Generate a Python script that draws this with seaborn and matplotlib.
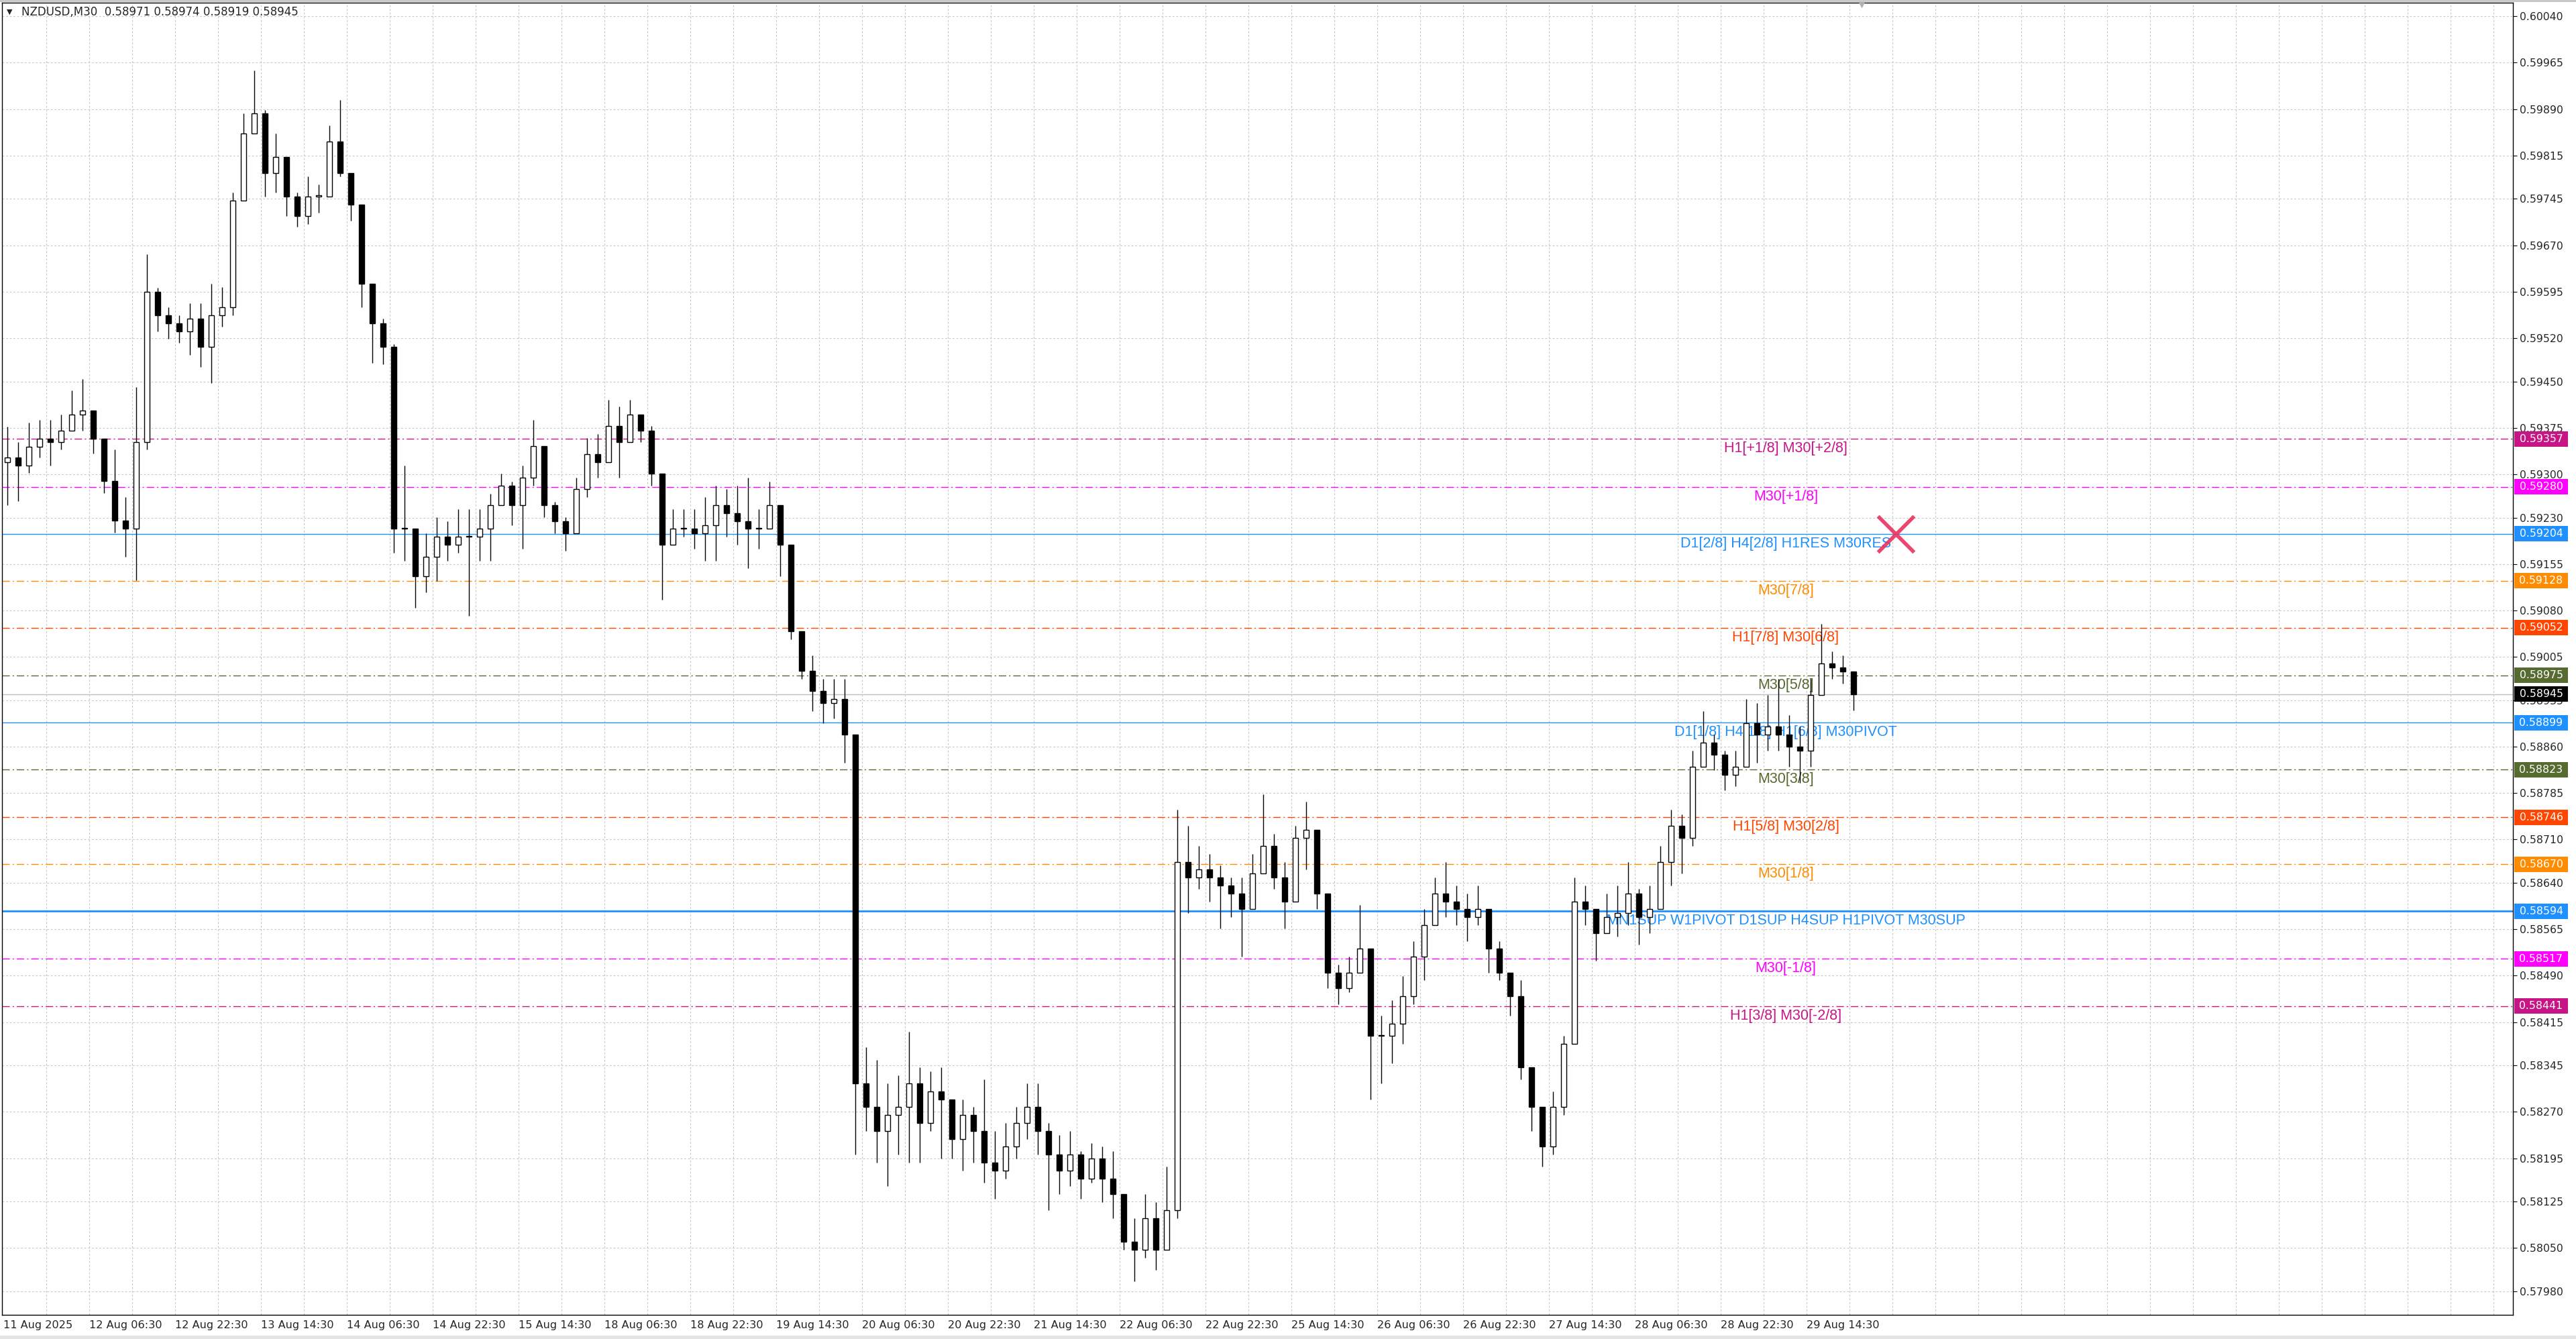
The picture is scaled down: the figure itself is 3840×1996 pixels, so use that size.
import numpy as np
import pandas as pd
import seaborn as sns
import matplotlib.pyplot as plt
from matplotlib import transforms
from matplotlib.patches import Rectangle

# 2-hour groups of the M30 bars
closes = [
    0.59327, 0.59314, 0.59345, 0.59358, 0.59352, 0.59371, 0.59397, 0.59403, 0.59358, 0.59289,
    0.59225, 0.59212, 0.59352, 0.59595, 0.59557, 0.59544, 0.59531, 0.59551, 0.59506, 0.59557,
    0.59570, 0.59742, 0.59851, 0.59883, 0.59787, 0.59813, 0.59749, 0.59717, 0.59749, 0.59749,
    0.59838, 0.59787, 0.59736, 0.59608, 0.59544, 0.59506, 0.59212, 0.59212, 0.59135, 0.59167,
    0.59199, 0.59186, 0.59199, 0.59199, 0.59212, 0.59250, 0.59282, 0.59250, 0.59295, 0.59346,
    0.59250, 0.59224, 0.59205, 0.59276, 0.59333, 0.59320, 0.59378, 0.59352, 0.59397, 0.59371,
    0.59301, 0.59186, 0.59212, 0.59212, 0.59205, 0.59218, 0.59250, 0.59237, 0.59224, 0.59212,
    0.59212, 0.59250, 0.59186, 0.59046, 0.58982, 0.58950, 0.58930, 0.58937, 0.58879, 0.58316,
    0.58278, 0.58239, 0.58265, 0.58278, 0.58316, 0.58252, 0.58303, 0.58290, 0.58226, 0.58265,
    0.58239, 0.58188, 0.58175, 0.58214, 0.58252, 0.58278, 0.58239, 0.58201, 0.58175, 0.58201,
    0.58162, 0.58194, 0.58162, 0.58137, 0.58060, 0.58047, 0.58098, 0.58047, 0.58111, 0.58674,
    0.58649, 0.58662, 0.58649, 0.58636, 0.58623, 0.58598, 0.58655, 0.58700, 0.58649, 0.58610,
    0.58713, 0.58726, 0.58623, 0.58495, 0.58470, 0.58495, 0.58534, 0.58393, 0.58393, 0.58412,
    0.58457, 0.58521, 0.58572, 0.58623, 0.58610, 0.58598, 0.58585, 0.58598, 0.58534, 0.58495,
    0.58457, 0.58342, 0.58278, 0.58214, 0.58278, 0.58380, 0.58610, 0.58598, 0.58559, 0.58585,
    0.58591, 0.58623, 0.58585, 0.58598, 0.58674, 0.58732, 0.58713, 0.58828, 0.58867, 0.58847,
    0.58815, 0.58828, 0.58898, 0.58879, 0.58892, 0.58879, 0.58860, 0.58854, 0.58943, 0.58994,
    0.58988, 0.58981, 0.58945,
]
highs = [
    0.59377, 0.59352, 0.59384, 0.59388, 0.59388, 0.59397, 0.59435, 0.59454, 0.59397, 0.59352,
    0.59340, 0.59263, 0.59441, 0.59656, 0.59601, 0.59570, 0.59557, 0.59576, 0.59576, 0.59608,
    0.59602, 0.59755, 0.59883, 0.59953, 0.59889, 0.59851, 0.59793, 0.59755, 0.59781, 0.59768,
    0.59864, 0.59905, 0.59787, 0.59736, 0.59595, 0.59551, 0.59510, 0.59314, 0.59212, 0.59205,
    0.59231, 0.59224, 0.59244, 0.59244, 0.59244, 0.59269, 0.59301, 0.59288, 0.59314, 0.59388,
    0.59340, 0.59256, 0.59231, 0.59295, 0.59359, 0.59365, 0.59420, 0.59410, 0.59420, 0.59397,
    0.59378, 0.59288, 0.59244, 0.59244, 0.59244, 0.59263, 0.59282, 0.59276, 0.59282, 0.59295,
    0.59244, 0.59288, 0.59250, 0.59186, 0.59039, 0.59007, 0.58969, 0.58969, 0.58969, 0.58879,
    0.58374, 0.58354, 0.58316, 0.58329, 0.58399, 0.58342, 0.58335, 0.58342, 0.58290, 0.58290,
    0.58278, 0.58322, 0.58239, 0.58252, 0.58278, 0.58316, 0.58316, 0.58252, 0.58233, 0.58239,
    0.58207, 0.58220, 0.58214, 0.58207, 0.58137, 0.58098, 0.58137, 0.58124, 0.58182, 0.58758,
    0.58732, 0.58700, 0.58687, 0.58668, 0.58649, 0.58649, 0.58687, 0.58783, 0.58719, 0.58674,
    0.58732, 0.58771, 0.58700, 0.58604, 0.58508, 0.58521, 0.58604, 0.58508, 0.58425, 0.58450,
    0.58489, 0.58546, 0.58598, 0.58649, 0.58674, 0.58636, 0.58623, 0.58636, 0.58591, 0.58546,
    0.58489, 0.58483, 0.58342, 0.58278, 0.58303, 0.58393, 0.58649, 0.58636, 0.58598, 0.58623,
    0.58636, 0.58674, 0.58630, 0.58636, 0.58700, 0.58758, 0.58751, 0.58854, 0.58917, 0.58879,
    0.58854, 0.58854, 0.58937, 0.58930, 0.58943, 0.58969, 0.58911, 0.58892, 0.58969, 0.59058,
    0.59014, 0.59007, 0.58980,
]
lows = [
    0.59250, 0.59257, 0.59302, 0.59327, 0.59314, 0.59340, 0.59371, 0.59371, 0.59334, 0.59270,
    0.59206, 0.59167, 0.59129, 0.59340, 0.59531, 0.59519, 0.59512, 0.59493, 0.59474, 0.59448,
    0.59538, 0.59557, 0.59742, 0.59851, 0.59749, 0.59755, 0.59717, 0.59700, 0.59704, 0.59723,
    0.59749, 0.59781, 0.59710, 0.59570, 0.59480, 0.59478, 0.59173, 0.59160, 0.59084, 0.59109,
    0.59128, 0.59160, 0.59173, 0.59071, 0.59160, 0.59160, 0.59256, 0.59218, 0.59180, 0.59282,
    0.59231, 0.59205, 0.59176, 0.59212, 0.59263, 0.59295, 0.59327, 0.59295, 0.59352, 0.59352,
    0.59282, 0.59097, 0.59192, 0.59199, 0.59180, 0.59160, 0.59160, 0.59199, 0.59186, 0.59148,
    0.59180, 0.59212, 0.59135, 0.59033, 0.58969, 0.58917, 0.58898, 0.58905, 0.58834, 0.58201,
    0.58239, 0.58188, 0.58150, 0.58201, 0.58188, 0.58188, 0.58239, 0.58194, 0.58194, 0.58175,
    0.58188, 0.58156, 0.58130, 0.58162, 0.58194, 0.58226, 0.58201, 0.58111, 0.58137, 0.58150,
    0.58130, 0.58156, 0.58124, 0.58098, 0.58047, 0.57996, 0.58034, 0.58015, 0.58060, 0.58098,
    0.58591, 0.58630, 0.58610, 0.58566, 0.58585, 0.58521, 0.58610, 0.58655, 0.58630, 0.58566,
    0.58623, 0.58662, 0.58598, 0.58470, 0.58444, 0.58463, 0.58495, 0.58290, 0.58316, 0.58348,
    0.58380, 0.58444, 0.58483, 0.58585, 0.58585, 0.58572, 0.58546, 0.58572, 0.58495, 0.58483,
    0.58425, 0.58322, 0.58239, 0.58182, 0.58201, 0.58265, 0.58457, 0.58572, 0.58514, 0.58559,
    0.58553, 0.58572, 0.58540, 0.58559, 0.58623, 0.58636, 0.58655, 0.58700, 0.58828, 0.58822,
    0.58790, 0.58796, 0.58841, 0.58834, 0.58854, 0.58854, 0.58828, 0.58802, 0.58828, 0.58956,
    0.58969, 0.58962, 0.58919,
]
first_open = 0.59320

time_labels = [
    "11 Aug 2025", "12 Aug 06:30", "12 Aug 22:30", "13 Aug 14:30", "14 Aug 06:30",
    "14 Aug 22:30", "15 Aug 14:30", "18 Aug 06:30", "18 Aug 22:30", "19 Aug 14:30",
    "20 Aug 06:30", "20 Aug 22:30", "21 Aug 14:30", "22 Aug 06:30", "22 Aug 22:30",
    "25 Aug 14:30", "26 Aug 06:30", "26 Aug 22:30", "27 Aug 14:30", "28 Aug 06:30",
    "28 Aug 22:30", "29 Aug 14:30",
]
price_ticks = [
    "0.60040", "0.59965", "0.59890", "0.59815", "0.59745", "0.59670", "0.59595",
    "0.59520", "0.59450", "0.59375", "0.59300", "0.59230", "0.59155", "0.59080",
    "0.59005", "0.58935", "0.58860", "0.58785", "0.58710", "0.58640", "0.58565",
    "0.58490", "0.58415", "0.58345", "0.58270", "0.58195", "0.58125", "0.58050",
    "0.57980",
]

levels = [0.59357, 0.59280, 0.59204, 0.59128, 0.59052, 0.58975, 0.58899,
          0.58823, 0.58746, 0.58670, 0.58594, 0.58517, 0.58441]
level_names = [
    "H1[+1/8] M30[+2/8]", "M30[+1/8]", "D1[2/8] H4[2/8] H1RES M30RES", "M30[7/8]",
    "H1[7/8] M30[6/8]", "M30[5/8]", "D1[1/8] H4[1/8] H1[6/8] M30PIVOT", "M30[3/8]",
    "H1[5/8] M30[2/8]", "M30[1/8]", "MN1SUP W1PIVOT D1SUP H4SUP H1PIVOT M30SUP",
    "M30[-1/8]", "H1[3/8] M30[-2/8]",
]
level_colors = ["#C71585", "#FF00FF", "#1E90FF", "#FF8C00", "#FF4500", "#556B2F", "#1E90FF",
                "#556B2F", "#FF4500", "#FF8C00", "#1E90FF", "#FF00FF", "#C71585"]
level_solid = [False, False, True, False, False, False, True,
               False, False, False, True, False, False]
current_price = 0.58945

W, H = 3840, 1996
sns.set_style("white")
plt.rcParams["font.family"] = ["DejaVu Sans"]

fig = plt.figure(figsize=(W / 100, H / 100), dpi=100)
ax_w = 3743
ax = fig.add_axes([3 / W, 36 / H, ax_w / W, 1956 / H])
ax.set_facecolor("white")

df = pd.DataFrame({"close": closes, "high": highs, "low": lows})
df["open"] = df["close"].shift(1).fillna(first_open)
df["high"] = df[["high", "open", "close"]].max(axis=1)
df["low"] = df[["low", "open", "close"]].min(axis=1)
df["x"] = df.index * 4 + 1.5
up = df["close"] >= df["open"]
body_lo = df[["open", "close"]].min(axis=1)
body_h = (df["close"] - df["open"]).abs().clip(lower=0.000015)

# grid
for xg in np.arange(16, 936, 16):
    ax.axvline(xg, color="#C8C8C8", lw=0.8, ls=(0, (2.5, 2.5)), zorder=0)
for p in price_ticks:
    ax.axhline(float(p), color="#C8C8C8", lw=0.8, ls=(0, (2.5, 2.5)), zorder=0)

# levels
for lv, name, c, solid in zip(levels, level_names, level_colors, level_solid):
    ax.axhline(lv, color=c, lw=2.0 if lv == 0.58594 else 1.0,
               ls="-" if solid else (0, (8, 3, 1.5, 3)), zorder=1)
    ax.annotate(name, (664.25, lv), xytext=(0, -4), textcoords="offset pixels",
                ha="center", va="top", fontsize=15.5, family="Liberation Sans",
                color=c, zorder=2)
ax.axhline(current_price, color="#C0C0C0", lw=1.0, zorder=1)

# candles
ax.vlines(df["x"], df["low"], df["high"], color="black", lw=1.0, zorder=3)
ax.bar(df["x"], body_h, bottom=body_lo, width=2.0,
       color=np.where(up, "white", "black"), edgecolor="black", lw=1.0, zorder=4)

# cross marker
sns.scatterplot(x=[705.25], y=[0.59204], marker="x", s=1500, color="#E8335E",
                linewidth=4.0, alpha=0.9, ax=ax, zorder=6, legend=False)

ax.set_xlim(-0.5, 935.25)
ax.set_ylim(0.57942, 0.60062)

ax.set_xticks(np.arange(len(time_labels)) * 32)
ax.set_xticklabels(time_labels, fontsize=11.6)
for lab in ax.get_xticklabels():
    lab.set_ha("left")
ax.tick_params(axis="x", length=4, width=0.8, pad=2, color="black")

ax.yaxis.tick_right()
ax.set_yticks([float(p) for p in price_ticks])
ax.set_yticklabels(price_ticks, fontsize=11.3)
ax.tick_params(axis="y", length=4, width=0.8, pad=3.5, color="black")
ax.set_xlabel("")
ax.set_ylabel("")
for s in ax.spines.values():
    s.set_color("black")
    s.set_linewidth(1.0)

# price boxes on the right scale
trans = transforms.blended_transform_factory(ax.transAxes, ax.transData)
half = 11.5 / 92250
box_list = list(zip(levels, level_colors)) + [(current_price, "black")]
for lv, c in box_list:
    ax.add_patch(Rectangle((1 + 2 / ax_w, lv - half), 80 / ax_w, 2 * half,
                           transform=trans, fc=c, ec="none", clip_on=False, zorder=10))
    ax.text(1 + 42 / ax_w, lv, f"{lv:.5f}", transform=trans, ha="center", va="center",
            color="white", fontsize=11.3, clip_on=False, zorder=11)

# header
fig.text(14 / W, 1 - 18 / H, "▼", fontsize=8, va="center", ha="center")
fig.text(32 / W, 1 - 18 / H, "NZDUSD,M30  0.58971 0.58974 0.58919 0.58945",
         fontsize=12, va="center", ha="left")
ax.scatter([692.5], [0.60062], marker="v", s=90, color="#B0B0B0", clip_on=False, zorder=7)

fig.patches.append(Rectangle((0, 0), 1, 5 / H, transform=fig.transFigure,
                             fc="#E4E4E4", ec="none"))
fig.patches.append(Rectangle((0, 1 - 3 / H), 1, 3 / H, transform=fig.transFigure,
                             fc="#C8C8C8", ec="none"))

fig.savefig("out.png", dpi=100, facecolor="white")
plt.close(fig)
